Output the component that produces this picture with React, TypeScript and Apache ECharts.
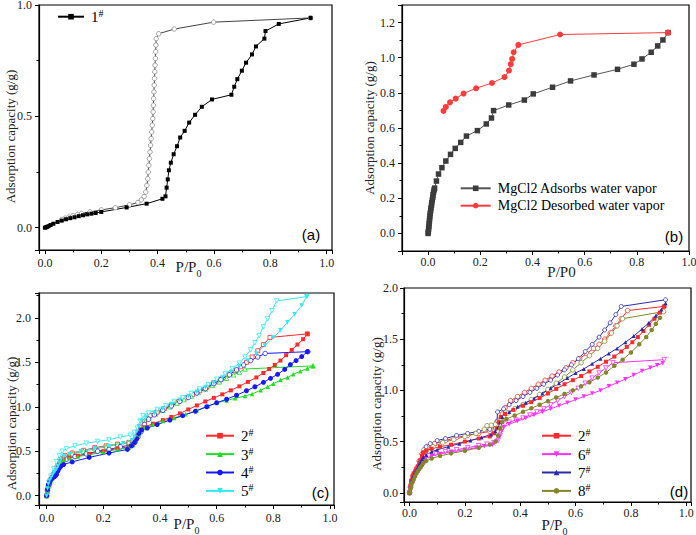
import React, { useEffect, useRef } from "react";
import * as echarts from "echarts";

type Pt = [number, number];

// ---------- Panel (a): sample 1# ----------
const A_ADS: Pt[] = [[0,0],[0.004,0.002],[0.008,0.004],[0.013,0.007],[0.02,0.012],[0.03,0.018],[0.045,0.026],[0.06,0.032],[0.075,0.038],[0.09,0.043],[0.105,0.047],[0.12,0.052],[0.135,0.056],[0.15,0.06],[0.165,0.063],[0.18,0.066],[0.2,0.071],[0.29,0.091],[0.361,0.108],[0.417,0.13],[0.428,0.141],[0.432,0.18],[0.436,0.217],[0.44,0.258],[0.447,0.292],[0.457,0.33],[0.469,0.366],[0.48,0.405],[0.496,0.435],[0.512,0.472],[0.533,0.507],[0.557,0.543],[0.593,0.576],[0.662,0.597],[0.672,0.633],[0.683,0.667],[0.699,0.705],[0.714,0.741],[0.735,0.778],[0.749,0.814],[0.779,0.849],[0.783,0.883],[0.83,0.915],[0.943,0.942]];
const A_DES: Pt[] = [[0.943,0.942],[0.599,0.923],[0.459,0.892],[0.404,0.871],[0.395,0.849],[0.394,0.82],[0.393,0.79],[0.392,0.76],[0.391,0.73],[0.39,0.7],[0.389,0.67],[0.388,0.64],[0.387,0.61],[0.386,0.58],[0.385,0.55],[0.384,0.52],[0.383,0.49],[0.381,0.46],[0.379,0.43],[0.377,0.4],[0.375,0.37],[0.373,0.34],[0.371,0.31],[0.369,0.28],[0.367,0.25],[0.365,0.22],[0.362,0.19],[0.358,0.16],[0.352,0.14],[0.342,0.125],[0.33,0.113],[0.3,0.103],[0.25,0.09],[0.2,0.08],[0.16,0.071],[0.13,0.064],[0.115,0.059],[0.1,0.054],[0.085,0.048],[0.072,0.043],[0.06,0.037]];

// ---------- Panel (b): MgCl2 ----------
const B_ADS: Pt[] = [[0,0],[0.001,0.01],[0.002,0.025],[0.003,0.04],[0.004,0.055],[0.005,0.07],[0.006,0.085],[0.007,0.1],[0.008,0.115],[0.01,0.13],[0.011,0.145],[0.013,0.16],[0.014,0.175],[0.016,0.19],[0.018,0.205],[0.019,0.22],[0.021,0.235],[0.023,0.248],[0.025,0.258],[0.032,0.298],[0.04,0.338],[0.053,0.374],[0.068,0.412],[0.086,0.45],[0.104,0.484],[0.125,0.518],[0.147,0.554],[0.189,0.585],[0.223,0.623],[0.243,0.657],[0.251,0.699],[0.309,0.731],[0.369,0.759],[0.403,0.794],[0.477,0.832],[0.546,0.868],[0.636,0.902],[0.726,0.934],[0.789,0.963],[0.82,0.993],[0.855,1.031],[0.88,1.067],[0.9,1.101],[0.92,1.143]];
const B_DES: Pt[] = [[0.92,1.143],[0.506,1.132],[0.346,1.073],[0.328,1.031],[0.322,0.993],[0.317,0.963],[0.31,0.927],[0.293,0.89],[0.245,0.856],[0.184,0.826],[0.136,0.796],[0.106,0.767],[0.084,0.746],[0.068,0.72],[0.059,0.697]];

// ---------- Panel (c) / (d): samples ----------
const S2_ADS: Pt[] = [[0,0],[0.003,0.07],[0.006,0.12],[0.01,0.16],[0.015,0.19],[0.02,0.21],[0.025,0.23],[0.03,0.26],[0.035,0.29],[0.04,0.32],[0.045,0.36],[0.05,0.39],[0.06,0.41],[0.08,0.43],[0.11,0.45],[0.15,0.47],[0.2,0.5],[0.25,0.53],[0.29,0.55],[0.305,0.58],[0.315,0.63],[0.322,0.69],[0.33,0.74],[0.345,0.77],[0.375,0.81],[0.41,0.85],[0.44,0.885],[0.47,0.925],[0.5,0.97],[0.53,1.015],[0.56,1.06],[0.59,1.1],[0.62,1.14],[0.65,1.185],[0.68,1.23],[0.71,1.28],[0.74,1.33],[0.765,1.38],[0.785,1.425],[0.805,1.47],[0.825,1.52],[0.845,1.58],[0.865,1.64],[0.885,1.7],[0.905,1.76],[0.92,1.82]];
const S2_DES: Pt[] = [[0.92,1.82],[0.788,1.78],[0.765,1.7],[0.745,1.63],[0.725,1.56],[0.705,1.5],[0.685,1.45],[0.665,1.41],[0.64,1.36],[0.615,1.31],[0.59,1.27],[0.565,1.22],[0.54,1.18],[0.515,1.14],[0.49,1.1],[0.465,1.06],[0.44,1.02],[0.415,0.98],[0.39,0.94],[0.365,0.9],[0.345,0.83],[0.335,0.77],[0.325,0.71],[0.315,0.66],[0.305,0.62],[0.29,0.6],[0.25,0.58],[0.21,0.56],[0.17,0.54],[0.13,0.51],[0.09,0.48],[0.065,0.45],[0.052,0.42],[0.045,0.38],[0.035,0.31],[0.025,0.24],[0.015,0.18],[0.008,0.12],[0.003,0.06],[0,0]];
const S3_ADS: Pt[] = [[0,0],[0.003,0.06],[0.006,0.11],[0.01,0.15],[0.015,0.18],[0.02,0.2],[0.025,0.22],[0.03,0.25],[0.035,0.28],[0.04,0.31],[0.045,0.34],[0.05,0.38],[0.06,0.4],[0.08,0.42],[0.11,0.44],[0.15,0.46],[0.2,0.49],[0.25,0.52],[0.29,0.54],[0.305,0.57],[0.315,0.62],[0.322,0.68],[0.33,0.73],[0.345,0.76],[0.375,0.8],[0.41,0.84],[0.45,0.875],[0.49,0.915],[0.53,0.96],[0.57,1.01],[0.6,1.045],[0.635,1.07],[0.665,1.095],[0.7,1.12],[0.725,1.145],[0.755,1.185],[0.78,1.225],[0.8,1.26],[0.825,1.3],[0.85,1.33],[0.87,1.365],[0.895,1.4],[0.92,1.43],[0.94,1.46]];
const S3_DES: Pt[] = [[0.94,1.46],[0.7,1.425],[0.68,1.39],[0.66,1.36],[0.635,1.32],[0.61,1.28],[0.585,1.24],[0.56,1.2],[0.535,1.16],[0.51,1.12],[0.485,1.08],[0.46,1.04],[0.435,1.0],[0.41,0.96],[0.385,0.92],[0.36,0.87],[0.345,0.82],[0.335,0.76],[0.325,0.7],[0.315,0.65],[0.305,0.62],[0.29,0.6],[0.25,0.575],[0.21,0.55],[0.17,0.53],[0.13,0.5],[0.09,0.47],[0.065,0.44],[0.052,0.41],[0.045,0.37],[0.035,0.3],[0.025,0.23],[0.015,0.17],[0.008,0.11],[0.003,0.05],[0,0]];
const S4_ADS: Pt[] = [[0,0],[0.003,0.07],[0.006,0.12],[0.01,0.15],[0.015,0.18],[0.02,0.2],[0.025,0.21],[0.03,0.22],[0.035,0.24],[0.04,0.28],[0.045,0.31],[0.05,0.33],[0.06,0.35],[0.09,0.38],[0.15,0.43],[0.22,0.48],[0.285,0.52],[0.3,0.56],[0.31,0.6],[0.318,0.64],[0.325,0.7],[0.335,0.74],[0.355,0.76],[0.39,0.8],[0.435,0.85],[0.48,0.9],[0.525,0.95],[0.565,1.0],[0.6,1.045],[0.635,1.085],[0.67,1.13],[0.705,1.18],[0.735,1.225],[0.765,1.275],[0.79,1.32],[0.815,1.365],[0.84,1.42],[0.86,1.475],[0.88,1.52],[0.9,1.565],[0.92,1.62]];
const S4_DES: Pt[] = [[0.922,1.62],[0.771,1.6],[0.745,1.56],[0.72,1.52],[0.695,1.47],[0.67,1.415],[0.645,1.36],[0.615,1.305],[0.59,1.26],[0.56,1.205],[0.53,1.155],[0.5,1.105],[0.47,1.06],[0.44,1.01],[0.41,0.96],[0.38,0.91],[0.36,0.86],[0.345,0.8],[0.333,0.72],[0.322,0.66],[0.312,0.6],[0.3,0.57],[0.26,0.55],[0.22,0.52],[0.18,0.5],[0.14,0.47],[0.1,0.44],[0.07,0.41],[0.055,0.38],[0.045,0.34],[0.035,0.27],[0.02,0.2],[0.01,0.13],[0.003,0.06],[0,0]];
const S5_ADS: Pt[] = [[0,0],[0.003,0.08],[0.006,0.13],[0.01,0.17],[0.015,0.2],[0.02,0.23],[0.025,0.26],[0.03,0.28],[0.035,0.3],[0.04,0.33],[0.045,0.37],[0.05,0.4],[0.06,0.44],[0.08,0.47],[0.12,0.5],[0.17,0.53],[0.22,0.56],[0.27,0.59],[0.3,0.62],[0.31,0.66],[0.318,0.72],[0.325,0.78],[0.335,0.84],[0.35,0.88],[0.38,0.93],[0.41,0.98],[0.44,1.03],[0.47,1.08],[0.5,1.12],[0.53,1.17],[0.56,1.22],[0.59,1.27],[0.62,1.33],[0.65,1.39],[0.68,1.45],[0.71,1.52],[0.74,1.6],[0.77,1.69],[0.8,1.78],[0.825,1.86],[0.85,1.95],[0.875,2.04],[0.9,2.14],[0.918,2.24]];
const S5_DES: Pt[] = [[0.918,2.24],[0.812,2.19],[0.795,2.08],[0.78,1.99],[0.765,1.9],[0.75,1.8],[0.735,1.72],[0.72,1.64],[0.7,1.56],[0.68,1.49],[0.655,1.43],[0.63,1.37],[0.6,1.31],[0.57,1.25],[0.54,1.2],[0.51,1.15],[0.48,1.1],[0.45,1.06],[0.42,1.01],[0.39,0.97],[0.36,0.93],[0.34,0.9],[0.33,0.84],[0.32,0.76],[0.31,0.71],[0.295,0.68],[0.26,0.66],[0.22,0.63],[0.18,0.61],[0.14,0.59],[0.1,0.56],[0.07,0.53],[0.055,0.5],[0.045,0.45],[0.035,0.38],[0.025,0.3],[0.015,0.22],[0.008,0.15],[0.003,0.08],[0,0]];
const S6_ADS: Pt[] = [[0,0],[0.003,0.04],[0.006,0.08],[0.01,0.11],[0.015,0.14],[0.02,0.17],[0.025,0.2],[0.03,0.23],[0.035,0.26],[0.04,0.28],[0.045,0.3],[0.05,0.32],[0.06,0.34],[0.08,0.36],[0.11,0.38],[0.15,0.4],[0.2,0.42],[0.24,0.44],[0.27,0.455],[0.3,0.47],[0.315,0.5],[0.325,0.55],[0.333,0.6],[0.34,0.64],[0.36,0.67],[0.39,0.7],[0.42,0.73],[0.45,0.76],[0.48,0.79],[0.51,0.82],[0.54,0.85],[0.57,0.88],[0.6,0.91],[0.63,0.94],[0.66,0.97],[0.69,1.0],[0.72,1.04],[0.75,1.075],[0.78,1.11],[0.81,1.15],[0.84,1.19],[0.87,1.22],[0.895,1.245],[0.915,1.265]];
const S6_DES: Pt[] = [[0.92,1.3],[0.735,1.27],[0.71,1.22],[0.685,1.17],[0.66,1.12],[0.635,1.07],[0.61,1.02],[0.585,0.98],[0.56,0.94],[0.535,0.9],[0.51,0.86],[0.485,0.82],[0.46,0.79],[0.435,0.76],[0.41,0.73],[0.385,0.71],[0.36,0.69],[0.345,0.67],[0.335,0.62],[0.327,0.56],[0.32,0.51],[0.305,0.49],[0.28,0.475],[0.25,0.46],[0.21,0.44],[0.17,0.42],[0.13,0.4],[0.095,0.38],[0.07,0.36],[0.055,0.33],[0.045,0.3],[0.035,0.25],[0.025,0.2],[0.015,0.14],[0.008,0.08],[0.003,0.03],[0,0]];
const S7_ADS: Pt[] = [[0,0],[0.003,0.07],[0.006,0.11],[0.01,0.14],[0.015,0.17],[0.02,0.2],[0.025,0.22],[0.03,0.25],[0.035,0.28],[0.04,0.3],[0.045,0.33],[0.05,0.35],[0.06,0.37],[0.08,0.4],[0.1,0.42],[0.14,0.45],[0.18,0.48],[0.22,0.51],[0.26,0.54],[0.295,0.57],[0.31,0.6],[0.32,0.64],[0.327,0.69],[0.335,0.74],[0.36,0.79],[0.39,0.84],[0.42,0.88],[0.45,0.92],[0.48,0.97],[0.51,1.02],[0.54,1.07],[0.57,1.12],[0.6,1.17],[0.63,1.21],[0.66,1.26],[0.69,1.31],[0.72,1.36],[0.75,1.41],[0.78,1.47],[0.81,1.53],[0.84,1.6],[0.865,1.66],[0.89,1.73],[0.91,1.79],[0.925,1.85]];
const S7_DES: Pt[] = [[0.925,1.885],[0.765,1.82],[0.745,1.74],[0.725,1.66],[0.705,1.59],[0.685,1.52],[0.66,1.45],[0.635,1.38],[0.61,1.31],[0.585,1.25],[0.56,1.2],[0.535,1.15],[0.51,1.1],[0.485,1.06],[0.46,1.02],[0.435,0.98],[0.41,0.94],[0.385,0.9],[0.36,0.86],[0.34,0.82],[0.318,0.79],[0.316,0.7],[0.31,0.63],[0.29,0.62],[0.25,0.6],[0.21,0.58],[0.17,0.56],[0.13,0.53],[0.1,0.51],[0.075,0.48],[0.06,0.45],[0.05,0.39],[0.04,0.32],[0.03,0.25],[0.02,0.18],[0.01,0.11],[0.004,0.05],[0,0]];
const S8_ADS: Pt[] = [[0,0],[0.003,0.04],[0.006,0.07],[0.01,0.1],[0.015,0.13],[0.02,0.16],[0.025,0.19],[0.03,0.21],[0.035,0.23],[0.04,0.25],[0.045,0.27],[0.05,0.29],[0.06,0.31],[0.08,0.335],[0.11,0.36],[0.15,0.385],[0.2,0.41],[0.25,0.44],[0.29,0.47],[0.31,0.5],[0.32,0.56],[0.328,0.63],[0.335,0.69],[0.35,0.72],[0.38,0.755],[0.41,0.79],[0.44,0.825],[0.47,0.86],[0.5,0.895],[0.53,0.93],[0.56,0.965],[0.59,1.0],[0.62,1.04],[0.65,1.08],[0.68,1.125],[0.71,1.175],[0.74,1.24],[0.77,1.3],[0.8,1.37],[0.83,1.45],[0.855,1.52],[0.875,1.59],[0.89,1.65],[0.905,1.71]];
const S8_DES: Pt[] = [[0.918,1.77],[0.77,1.7],[0.75,1.63],[0.73,1.56],[0.705,1.48],[0.68,1.41],[0.65,1.34],[0.62,1.27],[0.59,1.2],[0.56,1.13],[0.53,1.07],[0.5,1.01],[0.47,0.96],[0.44,0.91],[0.41,0.86],[0.38,0.82],[0.355,0.78],[0.34,0.74],[0.33,0.7],[0.31,0.67],[0.295,0.66],[0.28,0.655],[0.27,0.62],[0.24,0.58],[0.2,0.55],[0.16,0.52],[0.12,0.49],[0.085,0.45],[0.06,0.41],[0.05,0.37],[0.04,0.31],[0.03,0.25],[0.02,0.18],[0.01,0.11],[0.004,0.05],[0,0]];

const LEGEND_A = ["1#"];
const LEGEND_B = ["MgCl2 Adsorbs water vapor", "MgCl2 Desorbed water vapor"];
const LEGEND_C = ["2#", "3#", "4#", "5#"];
const LEGEND_D = ["2#", "6#", "7#", "8#"];
const PANEL_LABELS = ["(a)", "(b)", "(c)", "(d)"];

const SERIF = "'Liberation Serif', 'Times New Roman', serif";
const SANS = "'Liberation Sans', Arial, sans-serif";
const C_RED = "#ff2a2a";
const C_GREEN = "#22dd22";
const C_BLUE = "#1818ff";
const C_CYAN = "#33e8f5";
const C_MAG = "#ff33ff";
const C_NAVY = "#2a2aae";
const C_OLIVE = "#85852a";

const fmt = (step: number) => (v: number) => {
  const k = v / step;
  return Math.abs(k - Math.round(k)) < 1e-6 ? v.toFixed(1) : "";
};

const tickCommon = {
  axisLine: { show: true, onZero: false, lineStyle: { color: "#000", width: 1.2 } },
  axisTick: { show: true, inside: false, length: 4, lineStyle: { color: "#000", width: 1 } },
  minorTick: { show: true, splitNumber: 2, length: 2.5, lineStyle: { color: "#000", width: 1 } },
  splitLine: { show: false },
  minorSplitLine: { show: false },
  nameMoveOverlap: false,
};

function xAx(gi: number, min: number, max: number, nameGap: number, padL: number, margin: number, plainName?: string) {
  return {
    type: "value", gridIndex: gi, min, max, minInterval: 0.2, maxInterval: 0.2,
    ...tickCommon,
    axisLabel: { formatter: fmt(0.2), margin, fontFamily: SERIF, fontSize: 12, color: "#222" },
    name: plainName ?? "{m|P/P}{s|0}",
    nameLocation: "middle", nameGap,
    nameTextStyle: {
      fontFamily: SERIF, fontSize: 15, color: "#222", padding: [0, 0, 0, padL],
      rich: {
        m: { fontFamily: SERIF, fontSize: 15, color: "#222", verticalAlign: "bottom", padding: [0, 0, 4, 0] },
        s: { fontFamily: SERIF, fontSize: 10, color: "#222", verticalAlign: "bottom" },
      },
    },
  };
}

function yAx(gi: number, min: number, max: number, step: number, nameGap: number, padR: number, margin: number) {
  return {
    type: "value", gridIndex: gi, min, max, minInterval: step, maxInterval: step,
    ...tickCommon,
    axisLabel: { formatter: fmt(step), margin, fontFamily: SERIF, fontSize: 12, color: "#222" },
    name: "Adsorption capacity (g/g)", nameLocation: "middle", nameGap, nameRotate: 90,
    nameTextStyle: { fontFamily: SERIF, fontSize: 13, color: "#222", padding: [0, padR, 0, 0] },
  };
}

function ser(name: string, idx: number, data: Pt[], color: string, symbol: string, size: number, hollow: boolean, rotate = 0, lineColor?: string) {
  return {
    type: "line", name, xAxisIndex: idx, yAxisIndex: idx, data,
    symbol, symbolSize: size, symbolRotate: rotate, showSymbol: true, showAllSymbol: true, clip: false,
    lineStyle: { color: lineColor ?? color, width: 1 },
    itemStyle: hollow ? { color: "#fff", borderColor: color, borderWidth: 0.8 } : { color, borderWidth: 0 },
    emphasis: { disabled: true },
    animation: false,
  };
}

const supFormatter = (n: string) => `{n|${n.replace("#", "")}}{s|#}`;
const supRich = {
  n: { fontFamily: SERIF, fontSize: 15, color: "#000", verticalAlign: "bottom" },
  s: { fontFamily: SERIF, fontSize: 10, color: "#000", verticalAlign: "bottom", padding: [0, 0, 6, 0] },
};

function legendSup(data: string[], left: number, top: number, itemWidth: number) {
  return {
    data, left, top, orient: "vertical", itemWidth, itemHeight: 7, itemGap: 2.4, padding: 0,
    selectedMode: false, formatter: supFormatter,
    textStyle: { fontFamily: SERIF, padding: [0, 0, 0, 2], rich: supRich },
  };
}

const gridBase = { show: true, borderColor: "#000", borderWidth: 1.2, backgroundColor: "transparent", containLabel: false, outerBoundsMode: "none" };

const option = {
  animation: false,
  backgroundColor: "#fff",
  textStyle: { fontFamily: SERIF },
  grid: [
    { ...gridBase, left: 39, top: 5, width: 293, height: 245 },
    { ...gridBase, left: 402, top: 5, width: 287, height: 246 },
    { ...gridBase, left: 39, top: 293, width: 295, height: 212 },
    { ...gridBase, left: 404, top: 288, width: 287, height: 214 },
  ],
  xAxis: [
    xAx(0, -0.021, 1.019, 9, 6, 7),
    xAx(1, -0.1, 1.0, 13, 32, 4.5, "P/P0"),
    xAx(2, -0.027, 1.014, 11, 0, 7),
    xAx(3, -0.02, 1.017, 15, 14, 5),
  ],
  yAxis: [
    yAx(0, -0.1, 1.0, 0.5, 22.5, 18, 7),
    yAx(1, -0.1, 1.3, 0.2, 26.5, 0, 7),
    yAx(2, -0.105, 2.28, 0.5, 21.5, 49, 8),
    yAx(3, -0.09, 2.0, 0.5, 21, 18, 6),
  ],
  legend: [
    legendSup(LEGEND_A, 57, 8.7, 26),
    {
      data: LEGEND_B, left: 459.7, top: 180.3, orient: "vertical", itemWidth: 30, itemHeight: 7, itemGap: 1.4, padding: 0,
      selectedMode: false,
      textStyle: { fontFamily: SERIF, fontSize: 14, lineHeight: 16, color: "#000", padding: [0, 0, 0, 2] },
    },
    legendSup(LEGEND_C, 205, 427.7, 28),
    legendSup(LEGEND_D, 541, 427.7, 29),
  ],
  graphic: [
    { type: "text", x: 311, y: 234, style: { text: PANEL_LABELS[0], fontFamily: SANS, fontSize: 15, fill: "#000", align: "center", verticalAlign: "middle" } },
    { type: "text", x: 674, y: 236.5, style: { text: PANEL_LABELS[1], fontFamily: SANS, fontSize: 15, fill: "#000", align: "center", verticalAlign: "middle" } },
    { type: "text", x: 320.5, y: 492, style: { text: PANEL_LABELS[2], fontFamily: SANS, fontSize: 15, fill: "#000", align: "center", verticalAlign: "middle" } },
    { type: "text", x: 679, y: 491.5, style: { text: PANEL_LABELS[3], fontFamily: SANS, fontSize: 15, fill: "#000", align: "center", verticalAlign: "middle" } },
  ],
  series: [
    ser("1# des", 0, A_DES, "#8a8a8a", "circle", 4.5, true, 0, "#444"),
    ser("1#", 0, A_ADS, "#000", "rect", 4, false),

    ser(LEGEND_B[0], 1, B_ADS, "#3c3c3c", "rect", 5.5, false, 0, "#555"),
    ser(LEGEND_B[1], 1, B_DES, "#ff3b3b", "circle", 6, false),

    ser("2# des c", 2, S2_DES, C_RED, "rect", 4, true),
    ser("3# des", 2, S3_DES, C_GREEN, "triangle", 4.5, true),
    ser("4# des", 2, S4_DES, C_BLUE, "circle", 4.5, true),
    ser("5# des", 2, S5_DES, C_CYAN, "triangle", 4.5, true, 180),
    ser("2#", 2, S2_ADS, C_RED, "rect", 4, false),
    ser("3#", 2, S3_ADS, C_GREEN, "triangle", 4.5, false),
    ser("4#", 2, S4_ADS, C_BLUE, "circle", 5, false),
    ser("5#", 2, S5_ADS, C_CYAN, "triangle", 4.5, false, 180),

    ser("2# des d", 3, S2_DES, C_RED, "circle", 4.5, true),
    ser("6# des", 3, S6_DES, C_MAG, "triangle", 4.5, true, 180),
    ser("7# des", 3, S7_DES, C_NAVY, "circle", 4, true),
    ser("8# des", 3, S8_DES, C_OLIVE, "circle", 4.5, true),
    ser("2#", 3, S2_ADS, C_RED, "rect", 4, false),
    ser("6#", 3, S6_ADS, C_MAG, "triangle", 4.5, false, 180),
    ser("7#", 3, S7_ADS, C_NAVY, "triangle", 4, false),
    ser("8#", 3, S8_ADS, C_OLIVE, "circle", 4.5, false),
  ],
};

export default function App() {
  const ref = useRef<HTMLDivElement>(null);
  useEffect(() => {
    if (!ref.current) return;
    const chart = echarts.init(ref.current, null, { renderer: "svg" });
    chart.setOption(option as any);
    return () => chart.dispose();
  }, []);
  return <div ref={ref} style={{ position: "fixed", left: 0, top: 0, width: 696, height: 535, background: "#fff" }} />;
}
